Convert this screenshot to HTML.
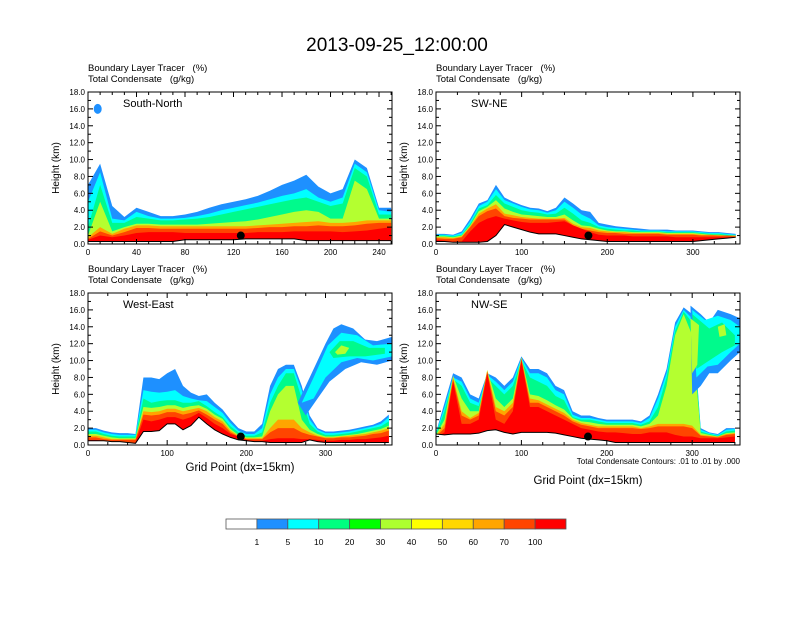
<!DOCTYPE html>
<html><head><meta charset="utf-8"><style>
body{margin:0;background:#fff;width:792px;height:612px;overflow:hidden}
svg{font-family:"Liberation Sans",sans-serif}
text{white-space:pre}
</style></head><body>
<svg id="c" width="792" height="612" xmlns="http://www.w3.org/2000/svg">
<text x="397" y="51" font-size="19" text-anchor="middle">2013-09-25_12:00:00</text>
</svg>
<script>
const colors=["#1E90FF","#00FFFF","#00FA8C","#B4FF30","#FFA500","#FF4500","#FF0000"];
const cbColors=["#FFFFFF","#1E90FF","#00FFFF","#00FF80","#00FF00","#ADFF2F","#FFFF00","#FFD700","#FFA500","#FF4500","#FF0000"];
const cbLabels=["1","5","10","20","30","40","50","60","70","100"];
const yTicks=[0,2,4,6,8,10,12,14,16,18];

const p1x=[0,10,20,30,40,50,60,70,80,90,100,110,120,130,140,150,160,170,180,190,200,210,220,230,240,250];
const p1terrain=[0.3,0.3,0.3,0.3,0.3,0.3,0.3,0.3,0.5,0.5,0.5,0.5,0.5,0.6,0.6,0.6,0.6,0.6,0.4,0.4,0.4,0.4,0.4,0.4,0.4,0.4];
const p1blue=[7,9.5,4.5,3.2,4.3,3.8,3.3,3.3,3.5,3.8,4.3,4.7,5,5.3,5.7,6.3,7,7.5,8.2,6.8,6,6.5,10,9,4.3,4.3];
const p1cyan=[5,8.5,3,2.8,3.8,3.3,3,3,3.1,3.3,3.6,4,4.3,4.6,4.9,5.3,5.7,6,6.5,5.5,5,5.5,9.5,8.5,4,3.8];
const p1green=[2,7,2.5,2.5,3.2,3,2.8,2.8,2.9,3,3.2,3.5,3.8,4.1,4.4,4.7,5,5.3,5.5,5,4.5,4.8,9,8,3.5,3.5];
const p1yellow=[1,5,1.5,2,2.4,2.4,2.3,2.3,2.3,2.3,2.4,2.5,2.6,2.7,2.9,3.2,3.5,3.8,4,3.8,3,3,7.5,6.5,3,3];
const p1orange=[0.8,2,1.2,1.8,2.2,2.2,2.1,2.1,2.1,2.1,2.1,2.1,2.1,2.1,2.2,2.3,2.4,2.5,2.6,2.7,2.5,2.5,2.6,2.8,2.8,2.8];
const p1ored=[0.6,1.5,1,1.4,1.9,1.9,1.8,1.8,1.8,1.8,1.8,1.8,1.8,1.8,1.9,2,2,2.1,2.1,2.2,2.1,2.1,2.2,2.4,2.5,2.5];
const p1red=[0.5,1,0.8,1,1.3,1.4,1.4,1.4,1.3,1.3,1.3,1.3,1.3,1.3,1.4,1.4,1.4,1.5,1.5,1.5,1.5,1.4,1.5,1.6,1.8,2];

const p2x=[0,10,20,30,40,50,60,70,80,90,100,110,120,130,140,150,160,170,180,190,200,210,220,230,240,250,260,270,280,290,300,310,320,330,340,350];
const p2terrain=[0.3,0.3,0.2,0.2,0.2,0.2,0.3,1,2.3,2,1.7,1.4,1.2,1.2,1.2,1,0.8,0.6,0.5,0.4,0.3,0.3,0.3,0.3,0.3,0.3,0.3,0.3,0.3,0.3,0.3,0.4,0.5,0.6,0.7,0.8];
const p2blue=[1.2,1.2,1.1,1.5,3,4.8,5.2,7,5.5,5,4.6,4.3,4.2,3.9,4.3,5.5,4.8,4,3.8,2.5,2.3,2.1,2,1.9,1.8,1.7,1.7,1.7,1.6,1.6,1.6,1.5,1.4,1.4,1.3,1.2];
const p2cyan=[1.1,1.1,1,1.3,2.7,4.5,5,6.5,5.2,4.8,4.4,4.1,4,3.7,4,5,4.3,3.5,3,2.2,2,1.9,1.8,1.7,1.6,1.6,1.6,1.5,1.5,1.5,1.5,1.4,1.3,1.3,1.2,1.1];
const p2green=[1,1,0.9,1.1,2.4,4.2,4.6,5.8,4.8,4.4,4,3.8,3.7,3.5,3.6,4.3,3.6,2.8,2.5,2,1.8,1.7,1.6,1.6,1.5,1.5,1.5,1.4,1.4,1.4,1.4,1.3,1.2,1.2,1.1,1];
const p2yellow=[0.9,0.9,0.8,1,2.2,3.9,4.4,5.2,4.2,3.8,3.5,3.4,3.3,3.2,3.2,3.5,2.8,2.2,2.1,1.8,1.6,1.5,1.5,1.4,1.4,1.4,1.4,1.3,1.3,1.3,1.3,1.2,1.1,1.1,1,1];
const p2orange=[0.8,0.8,0.7,0.9,2.1,3.6,4.2,4.7,3.6,3.4,3.2,3.1,3,3,3,3.1,2.4,2,1.9,1.6,1.5,1.4,1.4,1.3,1.3,1.3,1.3,1.2,1.2,1.2,1.2,1.1,1.1,1,1,1];
const p2ored=[0.7,0.6,0.6,0.8,2,3.3,3.9,4.2,3.3,3.1,3,2.9,2.9,2.9,2.9,2.9,2.2,1.8,1.6,1.4,1.3,1.3,1.2,1.2,1.2,1.2,1.2,1.1,1.1,1.1,1.1,1,1,1,1,0.9];
const p2red=[0.5,0.4,0.3,0.3,1.5,2.5,3,3.3,3,2.8,2.6,2.5,2.5,2.5,2.6,2.7,2.2,1.8,1.4,1.1,1,1,1,0.9,0.9,0.9,0.9,0.9,0.8,0.8,0.8,0.8,0.8,0.8,0.8,0.8];

const p3x=[0,10,20,30,40,50,60,70,80,90,100,110,120,130,140,150,160,170,180,190,200,210,220,230,240,250,260,270,280,290,300,310,320,330,340,350,360,370,380];
const p3terrain=[0.5,0.5,0.5,0.4,0.4,0.3,0.2,1.6,1.6,1.7,2.5,2.5,1.8,2.3,3.3,2.5,1.8,1.3,0.9,0.6,0.5,0.4,0.4,0.3,0.3,0.3,0.3,0.3,0.6,0.4,0.3,0.3,0.3,0.3,0.3,0.3,0.3,0.3,0.3];
const p3blue=[2,2,1.7,1.5,1.4,1.4,1.3,8,8,7.8,8.5,9,7,6.2,5.8,6,5,4.2,3,2,1.6,1.6,2.5,7,9,9.5,9.5,7,3.5,2,1.6,1.6,1.7,1.8,2,2.2,2.4,2.8,3.6];
const p3cyan=[1.8,1.8,1.5,1.3,1.2,1.2,1.2,6.5,6.3,6.2,6.3,6.5,5.8,5.5,5.3,5.2,4.5,3.8,2.6,1.7,1.3,1.3,2,6,8,9,9,6.5,3,1.8,1.4,1.4,1.5,1.6,1.8,2,2.2,2.5,3.3];
const p3green=[1.6,1.6,1.3,1.1,1,1,1,5.5,5,5.2,5.3,5.3,5,5,5.2,4.6,3.9,3.3,2.2,1.5,1.1,1.1,1.5,5,7,8.5,8.5,5.5,2.5,1.6,1.2,1.2,1.3,1.4,1.6,1.8,2,2.2,2.8];
const p3yellow=[1.3,1.3,1.1,0.9,0.8,0.8,0.8,4.5,4.4,4.5,4.7,4.7,4.4,4.6,4.7,4.3,3.6,3.1,1.9,1.2,0.9,0.9,1,4,6,7,7,3,1.8,1.3,1,1,1.1,1.2,1.3,1.5,1.7,1.9,2.3];
const p3orange=[1.1,1.1,0.9,0.7,0.7,0.7,0.7,4,3.9,4,4.3,4.3,4,4.2,4.4,4,3.3,2.8,1.7,1.1,0.8,0.8,0.8,2,3,3,3,2,1.5,1.1,0.9,0.9,1,1.1,1.2,1.3,1.5,1.7,2];
const p3ored=[0.9,0.9,0.7,0.6,0.6,0.6,0.6,3.6,3.5,3.6,3.9,3.9,3.6,3.8,4.1,3.6,3,2.5,1.5,1,0.7,0.7,0.7,1.5,2,2,2,1.5,1.2,1,0.8,0.8,0.9,0.9,1,1.1,1.3,1.4,1.7];
const p3red=[0.6,0.6,0.5,0.4,0.4,0.3,0.3,3,2.8,3,3.3,3.3,3,3.3,3.8,3.2,2.5,2,1.3,1,0.6,0.5,0.5,0.7,0.8,0.8,0.8,0.7,0.7,0.6,0.5,0.5,0.6,0.6,0.7,0.7,0.8,0.9,1.1];
const p3anvilBlue=[[265,5],[280,8],[300,12],[310,13.8],[320,14.3],[335,13.8],[350,12.5],[365,12.3],[384,12.8],[384,10],[365,9.5],[345,9.8],[325,9],[305,7.5],[290,5.5],[275,3.5]];
const p3anvilCyan=[[270,5],[285,8],[303,11.8],[320,13.3],[340,13],[360,11.8],[384,12],[384,10.5],[360,10],[340,10.3],[320,9.8],[300,8],[285,5.5]];
const p3anvilGreen=[[305,11],[318,12.3],[335,12.3],[355,11.5],[375,11.5],[375,10.8],[350,10.5],[330,10.5],[310,10.3]];
const p3anvilYellow=[[312,11],[320,11.8],[330,11.5],[325,10.8],[315,10.7]];

const p4x=[0,10,20,30,40,50,60,70,80,90,100,110,120,130,140,150,160,170,180,190,200,210,220,230,240,250,260,270,280,290,300,310,320,330,340,350];
const p4terrain=[1.3,1.2,1.3,1.3,1.3,1.4,1.7,1.8,1.5,1.3,1.5,1.5,1.5,1.5,1.4,1.2,1,0.8,0.7,0.6,0.5,0.3,0.3,0.3,0.3,0.3,0.3,0.3,0.3,0.3,0.3,0.3,0.3,0.3,0.3,0.3];
const p4blue=[1.5,5,8.5,8,6,5.5,8.5,8,7,8,10.5,9,9,8.5,7,6.5,4,3.5,3.5,3.2,3,3,3,3,2.8,3.5,6,9,14.5,16.3,15.5,2,1.5,1.3,2,2];
const p4cyan=[1.4,4.5,8,7.5,5.5,5,8.3,7.5,6.5,7.5,10.3,8.5,8.5,8,6.5,6,3.6,3.2,3.2,3,2.8,2.8,2.8,2.8,2.6,3.2,5.5,8.5,14,16,15,1.8,1.4,1.2,1.8,1.9];
const p4green=[1.3,4,7.8,7,5,4.6,8,7,6,7,10,8,7.5,7,5.8,5.3,3.3,3,3,2.8,2.6,2.6,2.6,2.6,2.4,2.8,4.5,8,13.5,15.8,14.5,1.6,1.3,1.1,1.6,1.7];
const p4yellow=[1.2,3,8.2,5.5,4,4,8.9,5.5,4.5,5.5,10.4,6,5.8,5.3,4.7,4.2,3.2,2.8,2.7,2.5,2.4,2.4,2.4,2.4,2.2,2.5,3.5,7,13,15.5,13,1.4,1.2,1,1.4,1.5];
const p4orange=[1.1,2.5,8,4,3.2,3.8,8.8,4.5,4,5,10.3,5.5,5.3,4.8,4.3,3.8,3,2.6,2.4,2.2,2.2,2.2,2.2,2.2,2,2.2,2.5,2.5,2.5,2.5,2.3,1.2,1.1,1,1.3,1.4];
const p4ored=[1,2,7.8,3.5,3,3.5,8.7,4,3.5,4.5,10.2,5,5,4.5,4,3.5,2.8,2.4,2.2,2,2,2,2,2,1.9,2,2.2,2.2,2.2,2.2,2,1.1,1,0.9,1.2,1.3];
const p4red=[0.9,1.5,7.5,2.5,2.5,3,8.5,3,2.5,4,10,4.5,4.5,4,3.5,3,2.5,2,1.8,1.6,1.5,1.5,1.4,1.3,1.3,1.5,1.5,1.5,1.2,1,1,0.8,0.8,0.8,0.9,1];
const p4anvilBlue=[[298,16.5],[310,15.5],[320,14.5],[330,16],[345,15.5],[356,15],[356,11],[345,10],[330,8.5],[320,8.5],[310,7],[300,6]];
const p4anvilCyan=[[300,16],[315,14.8],[330,15.3],[345,14.8],[356,14],[356,12],[345,11],[330,9.5],[318,9.3],[305,8]];
const p4anvilGreen=[[300,15.5],[320,13.8],[335,14.5],[350,13],[350,11.8],[335,11],[320,10],[305,9]];
const p4anvilYellow=[[298,15],[308,14.2],[306,9.5],[300,8.5]];
const p4anvilYellow2=[[330,14],[338,14.3],[340,13],[332,12.8]];

const panels=[
 {name:"south-north",label:"South-North",x0:88,y0:92,w:304,h:152,xmax:250.7,xt:[0,40,80,120,160,200,240],xs:p1x,ter:p1terrain,lv:[p1blue,p1cyan,p1green,p1yellow,p1orange,p1ored,p1red],ex:[],dot:126},
 {name:"sw-ne",label:"SW-NE",x0:436,y0:92,w:304,h:152,xmax:355,xt:[0,100,200,300],xs:p2x,ter:p2terrain,lv:[p2blue,p2cyan,p2green,p2yellow,p2orange,p2ored,p2red],ex:[],dot:178},
 {name:"west-east",label:"West-East",x0:88,y0:293,w:304,h:152,xmax:384,xt:[0,100,200,300],xs:p3x,ter:p3terrain,lv:[p3blue,p3cyan,p3green,p3yellow,p3orange,p3ored,p3red],ex:[[p3anvilBlue,0],[p3anvilCyan,1],[p3anvilGreen,2],[p3anvilYellow,3]],dot:193},
 {name:"nw-se",label:"NW-SE",x0:436,y0:293,w:304,h:152,xmax:356,xt:[0,100,200,300],xs:p4x,ter:p4terrain,lv:[p4blue,p4cyan,p4green,p4yellow,p4orange,p4ored,p4red],ex:[[p4anvilBlue,0],[p4anvilCyan,1],[p4anvilGreen,2],[p4anvilYellow,3],[p4anvilYellow2,3]],dot:178}
];
const NS="http://www.w3.org/2000/svg";
const svg=document.getElementById('c');
function mk(t,a,p){const e=document.createElementNS(NS,t);for(const k in a)e.setAttribute(k,a[k]);(p||svg).appendChild(e);return e;}
panels.forEach(P=>{
 const g=mk('g',{});
 
 
 const sx=v=>P.x0+v/P.xmax*P.w, sy=v=>P.y0+P.h-v/18*P.h;
 const clipId='cl-'+P.name;
 const cp=mk('clipPath',{id:clipId},g);mk('rect',{x:P.x0,y:P.y0,width:P.w,height:P.h},cp);
 const pg=mk('g',{'clip-path':'url(#'+clipId+')'},g);
 const n=P.xs.length;
 P.lv.forEach((arr,li)=>{
  let pts=[];
  for(let i=0;i<n;i++)pts.push(sx(P.xs[i])+','+sy(arr[i]));
  for(let i=n-1;i>=0;i--)pts.push(sx(P.xs[i])+','+sy(0));
  const e=mk('polygon',{points:pts.join(' '),fill:colors[li]},pg);
  
  
  if(li===3){P.ex.forEach(([poly,ci])=>{const q=mk('polygon',{points:poly.map(p=>sx(p[0])+','+sy(p[1])).join(' '),fill:colors[ci]},pg);
   
   });}
 });
 if(P.name==='south-north'){const b=mk('ellipse',{cx:sx(8),cy:sy(16),rx:4,ry:5,fill:colors[0]},pg);
  
  }
 let tp=[];
 for(let i=0;i<n;i++)tp.push(sx(P.xs[i])+','+sy(P.ter[i]));
 mk('polygon',{points:tp.join(' ')+' '+sx(P.xs[n-1]+20)+','+sy(P.ter[n-1])+' '+sx(P.xs[n-1]+20)+','+sy(-1)+' '+sx(-5)+','+sy(-1)+' '+sx(-5)+','+sy(P.ter[0]),fill:'#fff'},pg);
 const tl=mk('polyline',{points:tp.join(' '),fill:'none',stroke:'#000','stroke-width':1},pg);
 
 
 const d=mk('circle',{cx:sx(P.dot),cy:sy(1),r:4,fill:'#000'},g);
 
 
 mk('rect',{x:P.x0,y:P.y0,width:P.w,height:P.h,fill:'none',stroke:'#000','stroke-width':1},g);
 yTicks.forEach(v=>{const y=sy(v);
  mk('line',{x1:P.x0,x2:P.x0+5,y1:y,y2:y,stroke:'#000'},g);
  mk('line',{x1:P.x0+P.w-5,x2:P.x0+P.w,y1:y,y2:y,stroke:'#000'},g);
  if(v<18){const y2=sy(v+1);mk('line',{x1:P.x0,x2:P.x0+3,y1:y2,y2:y2,stroke:'#000'},g);mk('line',{x1:P.x0+P.w-3,x2:P.x0+P.w,y1:y2,y2:y2,stroke:'#000'},g);}
  const t=mk('text',{x:P.x0-3,y:y+3,'font-size':8,'text-anchor':'end'},g);t.textContent=v.toFixed(1);
  
  });
 const step=P.xt[1]-P.xt[0];
 for(let v=0;v<=P.xmax;v+=step/4){const x=sx(v),maj=Math.abs(v/step-Math.round(v/step))<1e-6,L=maj?5:3;
  mk('line',{x1:x,x2:x,y1:P.y0+P.h,y2:P.y0+P.h-L,stroke:'#000'},g);
  mk('line',{x1:x,x2:x,y1:P.y0,y2:P.y0+L,stroke:'#000'},g);}
 P.xt.forEach(v=>{const t=mk('text',{x:sx(v),y:P.y0+P.h+11,'font-size':8,'text-anchor':'middle'},g);t.textContent=v;
  
  });
 const yt=mk('text',{x:0,y:0,'font-size':10,'text-anchor':'middle',transform:'translate('+(P.x0-29)+','+(P.y0+P.h/2)+') rotate(-90)'},g);yt.textContent='Height (km)';
 
 
 const l1=mk('text',{x:P.x0,y:P.y0-21,'font-size':9.5},g);l1.textContent='Boundary Layer Tracer\u00a0\u00a0\u00a0(%)';
 
 
 const l2=mk('text',{x:P.x0,y:P.y0-10,'font-size':9.5},g);l2.textContent='Total Condensate\u00a0\u00a0\u00a0(g/kg)';
 
 
 const pn=mk('text',{x:P.x0+35,y:P.y0+15,'font-size':11},g);pn.textContent=P.label;
 
 
});
const xt1=mk('text',{x:240,y:471,'font-size':11.5,'text-anchor':'middle'});xt1.textContent='Grid Point (dx=15km)';


const xt2=mk('text',{x:588,y:484,'font-size':11.5,'text-anchor':'middle'});xt2.textContent='Grid Point (dx=15km)';


const ct=mk('text',{x:740,y:464,'font-size':8,'text-anchor':'end'});ct.textContent='Total Condensate Contours: .01 to .01 by .000';


const cbw=340/11;
cbColors.forEach((c,i)=>{const r=mk('rect',{x:226+i*cbw,y:519,width:cbw,height:10,fill:c,stroke:'#555','stroke-width':0.8});
 
 });
cbLabels.forEach((l,i)=>{const t=mk('text',{x:226+(i+1)*cbw,y:545,'font-size':8.5,'text-anchor':'middle'});t.textContent=l;
 
 });
</script>
</body></html>
